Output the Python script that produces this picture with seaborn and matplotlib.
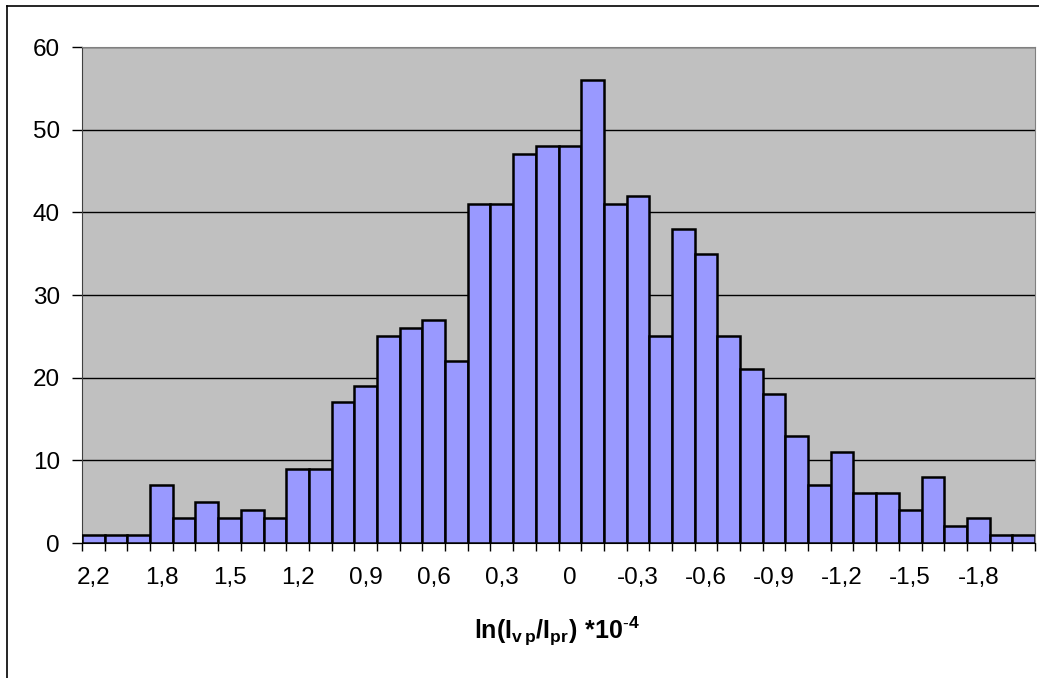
import matplotlib
matplotlib.use("Agg")
import matplotlib.pyplot as plt
import seaborn as sns
import pandas as pd
from matplotlib.lines import Line2D

plt.rcParams['font.family'] = ['Liberation Sans', 'DejaVu Sans']
plt.rcParams['mathtext.fontset'] = 'custom'
plt.rcParams['mathtext.rm'] = 'Liberation Sans'
plt.rcParams['mathtext.bf'] = 'Liberation Sans:bold'

# bin labels (ln ratio * 1e-4) and counts per bin
bins = ["2,2", "2", "1,9", "1,8", "1,7", "1,6", "1,5", "1,4", "1,3", "1,2",
        "1,1", "1", "0,9", "0,8", "0,7", "0,6", "0,5", "0,4", "0,3", "0,2",
        "0,1", "0", "-0,1", "-0,2", "-0,3", "-0,4", "-0,5", "-0,6", "-0,7", "-0,8",
        "-0,9", "-1", "-1,1", "-1,2", "-1,3", "-1,4", "-1,5", "-1,6", "-1,7", "-1,8",
        "-1,9", "-2"]
counts = [1, 1, 1, 7, 3, 5, 3, 4, 3, 9,
          9, 17, 19, 25, 26, 27, 22, 41, 41, 47,
          48, 48, 56, 41, 42, 25, 38, 35, 25, 21,
          18, 13, 7, 11, 6, 6, 4, 8, 2, 3,
          1, 1]
yticks = [0, 10, 20, 30, 40, 50, 60]

df = pd.DataFrame({'bin': bins, 'count': counts})

fig = plt.figure(figsize=(10.39, 6.78), dpi=100)
ax = fig.add_axes([82/1039, 1-543/678, (1035-82)/1039, (543-47)/678])

sns.barplot(data=df, x='bin', y='count', order=bins, color='#9999FF',
            saturation=1, width=1, edgecolor='black', linewidth=1.8, ax=ax, zorder=3)

ax.set_facecolor('#C0C0C0')
ax.set_xlim(-0.5, len(bins) - 0.5)
ax.set_ylim(0, 60)
ax.set_yticks(yticks)
ax.yaxis.grid(True, color='black', linewidth=1)
ax.set_axisbelow(True)
ax.tick_params(axis='y', length=7, width=1, pad=9, labelsize=17.5, color='black')

# labels every third bin, small ticks on every bin edge
shown = list(range(0, len(bins), 3))
ax.set_xticks(shown, labels=[bins[i] for i in shown])
ax.tick_params(axis='x', which='major', length=0, pad=17, labelsize=17.5)
ax.set_xticks([i - 0.5 for i in range(len(bins) + 1)], minor=True)
ax.tick_params(axis='x', which='minor', length=6, width=1, color='black')

ax.set_ylabel('')
ax.set_xlabel(r'$\mathbf{ln(I_{v\,p}/I_{pr})\ {*}10^{\text{-}4}}$', fontsize=18)
ax.xaxis.set_label_coords(0.498, -0.145)

for s in ['top', 'right']:
    ax.spines[s].set_color('#808080')
ax.spines['left'].set_color('#404040')
ax.spines['bottom'].set_color('black')

# chart area border (left and top edges visible)
fig.add_artist(Line2D([7/1039, 7/1039], [0, 1-6/678], color='black', linewidth=1.2))
fig.add_artist(Line2D([7/1039, 1], [1-6/678, 1-6/678], color='black', linewidth=1.2))

fig.savefig('out.png', dpi=100)
